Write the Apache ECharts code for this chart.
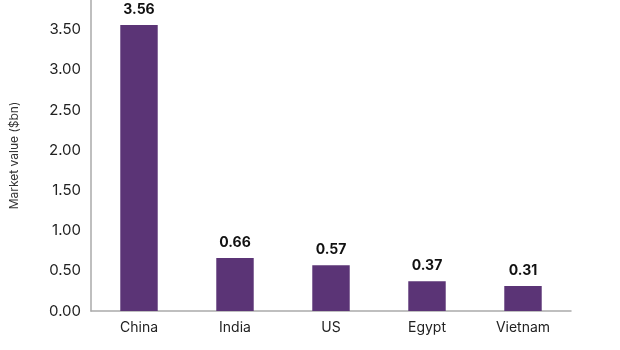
<!DOCTYPE html>
<html>
<head>
<meta charset="utf-8">
<script src="https://cdn.jsdelivr.net/npm/echarts@6/dist/echarts.min.js"></script>
<style>
  html, body { margin: 0; padding: 0; background: #fff; }
  #chart { width: 620px; height: 350px; }
</style>
</head>
<body>
<div id="chart"></div>
<script>
// Market value by country, $bn
const countries = ['China', 'India', 'US', 'Egypt', 'Vietnam'];
const marketValue = [3.56, 0.66, 0.57, 0.37, 0.31];
const yTicks = { min: 0, max: 3.87, interval: 0.5 };

const chart = echarts.init(document.getElementById('chart'));
chart.setOption({
  animation: false,
  textStyle: { fontFamily: 'Inter, "Noto Sans", sans-serif' },
  grid: { left: 90, right: 49, top: 0, bottom: 39, containLabel: false },
  xAxis: {
    type: 'category',
    data: countries,
    axisLine: { show: true, lineStyle: { color: '#aaaaaa', width: 1.5 } },
    axisTick: { show: false },
    axisLabel: { color: '#222', fontSize: 14, margin: 10 }
  },
  yAxis: {
    type: 'value',
    min: yTicks.min,
    max: yTicks.max,
    interval: yTicks.interval,
    name: 'Market value ($bn)',
    nameLocation: 'middle',
    nameGap: 71,
    nameRotate: 90,
    nameTextStyle: { color: '#333', fontSize: 12 },
    axisLine: { show: true, lineStyle: { color: '#aaaaaa', width: 1.5 } },
    axisTick: { show: false },
    splitLine: { show: false },
    axisLabel: {
      color: '#222',
      fontSize: 15,
      margin: 10,
      showMaxLabel: false,
      formatter: v => v.toFixed(2)
    }
  },
  series: [{
    type: 'bar',
    data: marketValue,
    barWidth: '39%',
    itemStyle: { color: '#5b3476' },
    label: {
      show: true,
      position: 'top',
      distance: 8,
      color: '#111',
      fontSize: 14,
      fontWeight: 'bold',
      formatter: p => p.value.toFixed(2)
    }
  }]
});
</script>
</body>
</html>
